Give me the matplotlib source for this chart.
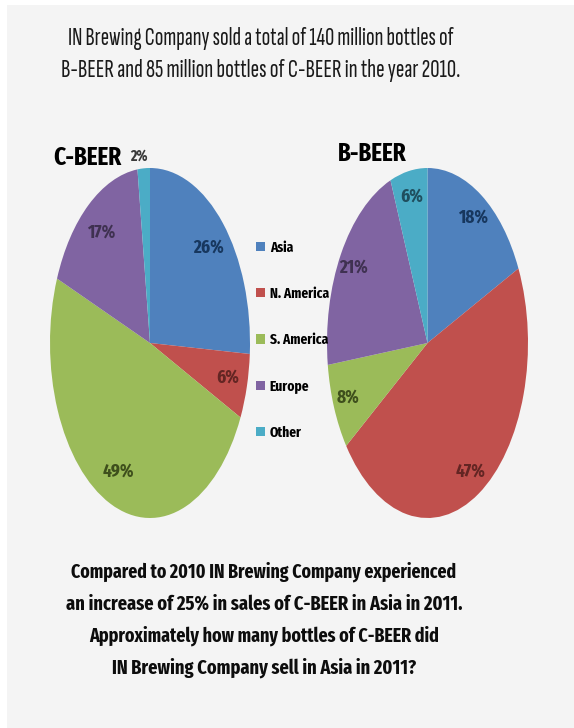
import matplotlib.pyplot as plt
from matplotlib.patches import Rectangle

regions = ["Asia", "N. America", "S. America", "Europe", "Other"]
c_beer = [26, 6, 49, 17, 2]
b_beer = [18, 47, 8, 21, 6]

title_lines = ["IN Brewing Company sold a total of 140 million bottles of",
               "B-BEER and 85 million bottles of C-BEER in the year 2010."]
question_lines = ["Compared to 2010 IN Brewing Company experienced",
                  "an increase of 25% in sales of C-BEER in Asia in 2011.",
                  "Approximately how many bottles of C-BEER did",
                  "IN Brewing Company sell in Asia in 2011?"]

# widths (px) of each text line in the reference picture
title_widths = [385, 398]
question_widths = [385, 397, 350, 305]

colors = ["#4F81BD", "#C0504D", "#9BBB59", "#8064A2", "#4BACC6"]
dark = ["#17375E", "#632523", "#3E4F1C", "#3F3151", "#1F4E5E"]

cond = ["Fira Sans Extra Condensed", "DejaVu Sans"]
xcond = ["Sofia Sans Extra Condensed", "Fira Sans Extra Condensed", "DejaVu Sans"]

W, H = 574, 728
fig = plt.figure(figsize=(W / 100, H / 100), dpi=100, facecolor="white")
fig.patches.append(Rectangle((7 / W, 0), 1, 1 - 5 / H, transform=fig.transFigure,
                             facecolor="#f4f4f4", edgecolor="none", zorder=-10))
renderer = fig.canvas.get_renderer()


def px_axes(x0, y0, x1, y1):
    # pixel box (top-left origin) -> figure axes
    return fig.add_axes([x0 / W, 1 - y1 / H, (x1 - x0) / W, (y1 - y0) / H])


def fit_width(t, px):
    w = t.get_window_extent(renderer).width
    t.set_fontsize(t.get_fontsize() * px / w)


def draw_pie(ax, values, pctdist):
    wedges, _, autotexts = ax.pie(values, colors=colors, startangle=90, counterclock=False,
                                  autopct="%d%%", pctdistance=pctdist,
                                  wedgeprops=dict(edgecolor="none"))
    ax.set_aspect("auto")
    ax.set_xlim(-1, 1)
    ax.set_ylim(-1, 1)
    ax.axis("off")
    for t, c in zip(autotexts, dark):
        t.set_color(c)
        t.set_fontsize(13.5)
        t.set_fontweight("bold")
        t.set_family(cond)
    return wedges, autotexts


ax_c = px_axes(50, 168, 250, 518)
wedges, texts_c = draw_pie(ax_c, c_beer, 0.8)
# tiny slice label sits outside the pie, just above it
x, y = texts_c[4].get_position()
texts_c[4].set_position((x * 1.34 - 0.04, y * 1.34))
texts_c[4].set_color("#3a3a3a")
texts_c[4].set_fontsize(11)

ax_b = px_axes(327, 168, 528, 518)
draw_pie(ax_b, b_beer, 0.85)

fig.text(87 / W, 1 - 158 / H, "C-BEER", ha="center", va="center", fontsize=18,
         fontweight="bold", family=cond)
fig.text(372 / W, 1 - 154 / H, "B-BEER", ha="center", va="center", fontsize=18,
         fontweight="bold", family=cond)

fig.legend(wedges, regions, loc="center left", bbox_to_anchor=(256 / W, 1 - 340 / H),
           frameon=False, labelspacing=2.2, handlelength=0.6,
           handleheight=0.6, handletextpad=0.35, borderpad=0, borderaxespad=0,
           prop=dict(family=cond, weight="bold", size=10.5))

for i, line in enumerate(title_lines):
    t = fig.text(261 / W, 1 - (38 + 32 * i) / H, line, ha="center", va="center",
                 fontsize=14, family=xcond, color="#1a1a1a")
    fit_width(t, title_widths[i])

for i, line in enumerate(question_lines):
    t = fig.text(264 / W, 1 - (572 + 32 * i) / H, line, ha="center", va="center",
                 fontsize=14, fontweight="bold", family=cond, color="#0d0d0d")
    fit_width(t, question_widths[i])

fig.savefig("out.png", dpi=100, facecolor=fig.get_facecolor())
